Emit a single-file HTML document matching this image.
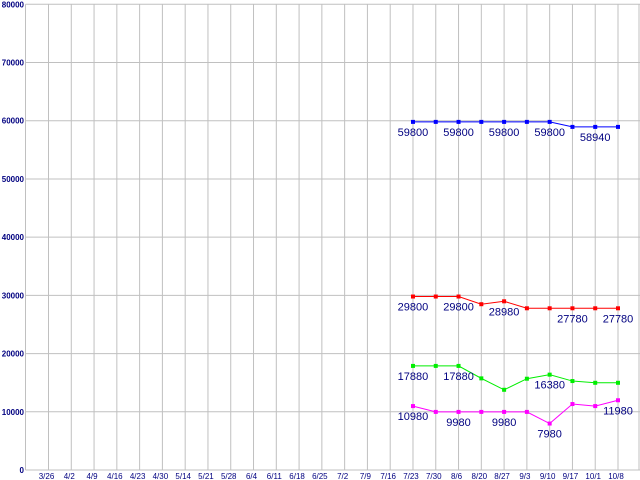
<!DOCTYPE html>
<html><head><meta charset="utf-8"><style>
html,body{margin:0;padding:0;background:#fff;}
svg{display:block;font-family:"Liberation Sans",sans-serif;}
</style></head><body>
<svg id="chart" width="640" height="480" viewBox="0 0 640 480" xmlns="http://www.w3.org/2000/svg">
<rect x="0" y="0" width="640" height="480" fill="#fff"/>
<g id="grid"></g><g id="series"></g><g id="labels"></g>
</svg>
<script>
const categories=["3/26","4/2","4/9","4/16","4/23","4/30","5/14","5/21","5/28","6/4","6/11","6/18","6/25","7/2","7/9","7/16","7/23","7/30","8/6","8/20","8/27","9/3","9/10","9/17","10/1","10/8"];
const yTicks=[0,10000,20000,30000,40000,50000,60000,70000,80000];
const blueValues=[null,null,null,null,null,null,null,null,null,null,null,null,null,null,null,null,59800,59800,59800,59800,59800,59800,59800,58940,58940,58940];
const redValues=[null,null,null,null,null,null,null,null,null,null,null,null,null,null,null,null,29800,29800,29800,28480,28980,27780,27780,27780,27780,27780];
const greenValues=[null,null,null,null,null,null,null,null,null,null,null,null,null,null,null,null,17880,17880,17880,15740,13780,15680,16380,15280,14980,14980];
const magentaValues=[null,null,null,null,null,null,null,null,null,null,null,null,null,null,null,null,10980,9980,9980,9980,9980,9980,7980,11330,10980,11980];
const blueLabelIdx=[16,18,20,22,24];
const redLabelIdx=[16,18,20,23,25];
const greenLabelIdx=[16,18,22];
const magentaLabelIdx=[16,18,20,22,25];

const NS="http://www.w3.org/2000/svg";
function xPos(i){return 48.5+i*22.78;}
function yPos(v){return 470-v*(465.7/80000);}
function mk(tag,attrs,parent){const e=document.createElementNS(NS,tag);for(const k in attrs)e.setAttribute(k,attrs[k]);parent.appendChild(e);return e;}
const grid=document.getElementById('grid'),series=document.getElementById('series'),labels=document.getElementById('labels');

yTicks.forEach(v=>{
  const y=yPos(v);
  const l=mk('line',{x1:25.5,x2:640,y1:y,y2:y,stroke:'#c0c0c0','stroke-width':1},grid);
  
  
  const t=mk('text',{x:24,y:y+3,'text-anchor':'end','font-size':8,'font-weight':'bold',fill:'#000080'},grid);
  t.textContent=v;
  
  
});
const ax=mk('line',{x1:25.5,x2:25.5,y1:yPos(80000),y2:470,stroke:'#c0c0c0'},grid);


const rx=mk('line',{x1:639,x2:639,y1:yPos(80000),y2:470,stroke:'#c0c0c0'},grid);


categories.forEach((c,i)=>{
  const x=xPos(i);
  const l=mk('line',{x1:x,x2:x,y1:yPos(80000),y2:470,stroke:'#c0c0c0'},grid);
  
  
  const t=mk('text',{x:x-2,y:479,'text-anchor':'middle','font-size':8,fill:'#000080'},grid);
  t.textContent=c;
  
  
});

function drawSeries(vals,color,name,labelIdx){
  let pts=[];
  vals.forEach((v,i)=>{if(v!=null)pts.push(xPos(i)+','+yPos(v));});
  const pl=mk('polyline',{points:pts.join(' '),fill:'none',stroke:color,'stroke-width':1},series);
  
  
  vals.forEach((v,i)=>{
    if(v==null)return;
    const r=mk('rect',{x:xPos(i)-2,y:yPos(v)-2,width:4,height:4,fill:color},series);
    
    
  });
  labelIdx.forEach(i=>{
    const t=mk('text',{x:xPos(i),y:yPos(vals[i])+14,'text-anchor':'middle','font-size':11,fill:'#000080'},labels);
    t.textContent=vals[i];
    
    
  });
}
drawSeries(blueValues,'#0000ff','blue-series',blueLabelIdx);
drawSeries(redValues,'#ff0000','red-series',redLabelIdx);
drawSeries(greenValues,'#00ee00','green-series',greenLabelIdx);
drawSeries(magentaValues,'#ff00ff','magenta-series',magentaLabelIdx);
</script>
</body></html>
